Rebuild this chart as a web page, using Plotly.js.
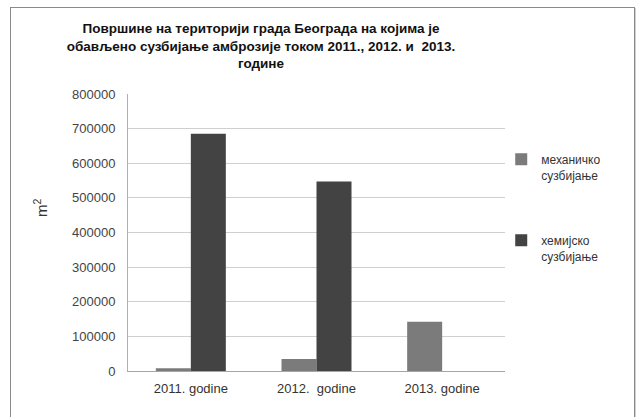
<!DOCTYPE html>
<html>
<head>
<meta charset="utf-8">
<script src="https://cdn.plot.ly/plotly-3.0.1.min.js"></script>
<style>
  html, body { margin: 0; padding: 0; background: #fff; }
  #wrap { position: relative; width: 638px; height: 417px; overflow: hidden; }
  #chart { width: 638px; height: 417px; }
  #frame { position: absolute; left: 10px; top: 7px; width: 623px; height: 430px;
           border: 1px solid #8a8a8a; box-shadow: 1px 1px 0 #cfcfcf; pointer-events: none; }
</style>
</head>
<body>
<div id="wrap">
  <div id="chart"></div>
  <div id="frame"></div>
</div>
<script>
const categories = ["2011. godine", "2012.\u00a0 godine", "2013. godine"];
const mechanical = [8000, 35000, 142000];
const chemical = [685000, 547000, 0];
const seriesNames = ["механичко<br>сузбијање", "хемијско<br>сузбијање"];
const yTicks = [0, 100000, 200000, 300000, 400000, 500000, 600000, 700000, 800000];
const titleText = "Површине на територији града Београда на којима је<br>обављено сузбијање амброзије током 2011., 2012. и  2013.<br>године";
const yTitle = "m<sup>2</sup>";

const font = "Liberation Sans, Arial, sans-serif";

const traces = [
  { type: "bar", x: categories, y: mechanical, name: seriesNames[0],
    marker: { color: "#7b7b7b", line: { width: 0 } }, legend: "legend" },
  { type: "bar", x: categories, y: chemical, name: seriesNames[1],
    marker: { color: "#434343", line: { width: 0 } }, legend: "legend2" }
];

const legendCommon = {
  bgcolor: "rgba(0,0,0,0)", borderwidth: 0, valign: "top",
  font: { family: font, size: 12, color: "#333" },
  xref: "paper", yref: "paper", xanchor: "left", yanchor: "top",
  itemwidth: 30, tracegroupgap: 0
};

const layout = {
  width: 638, height: 417,
  margin: { l: 128, r: 133, t: 94, b: 46 },
  paper_bgcolor: "#fff", plot_bgcolor: "#fff",
  barmode: "group", bargap: 0.443, bargroupgap: 0,
  title: { text: titleText, font: { family: font, size: 13.5, color: "#111", weight: "bold" },
           xref: "container", yref: "container", x: 261 / 638, xanchor: "center",
           y: 1 - 33 / 417, yanchor: "top" },
  xaxis: { type: "category", tickfont: { family: font, size: 13, color: "#333" },
           showline: true, linecolor: "#a6a6a6", linewidth: 1.2, ticks: "", showgrid: false,
           ticklabelstandoff: 5 },
  yaxis: { range: [0, 800000], tickvals: yTicks, ticktext: yTicks.map(String),
           tickfont: { family: font, size: 13, color: "#444" },
           showgrid: true, gridcolor: "#cfcfcf", gridwidth: 1,
           showline: true, linecolor: "#b0b0b0", linewidth: 1, zeroline: false,
           ticks: "", ticklen: 0, automargin: false, ticklabelstandoff: 9 },
  annotations: [
    { text: yTitle, textangle: -90, showarrow: false,
      xref: "paper", yref: "paper", x: (40 - 128) / 377, y: (371 - 208) / 277,
      xanchor: "center", yanchor: "middle",
      font: { family: font, size: 15, color: "#333" } }
  ],
  legend: Object.assign({}, legendCommon, { x: 0.99, y: (371 - 145) / 277 }),
  legend2: Object.assign({}, legendCommon, { x: 0.99, y: (371 - 226) / 277 }),
  showlegend: true
};

Plotly.newPlot("chart", traces, layout, { displayModeBar: false, staticPlot: true });
</script>
</body>
</html>
